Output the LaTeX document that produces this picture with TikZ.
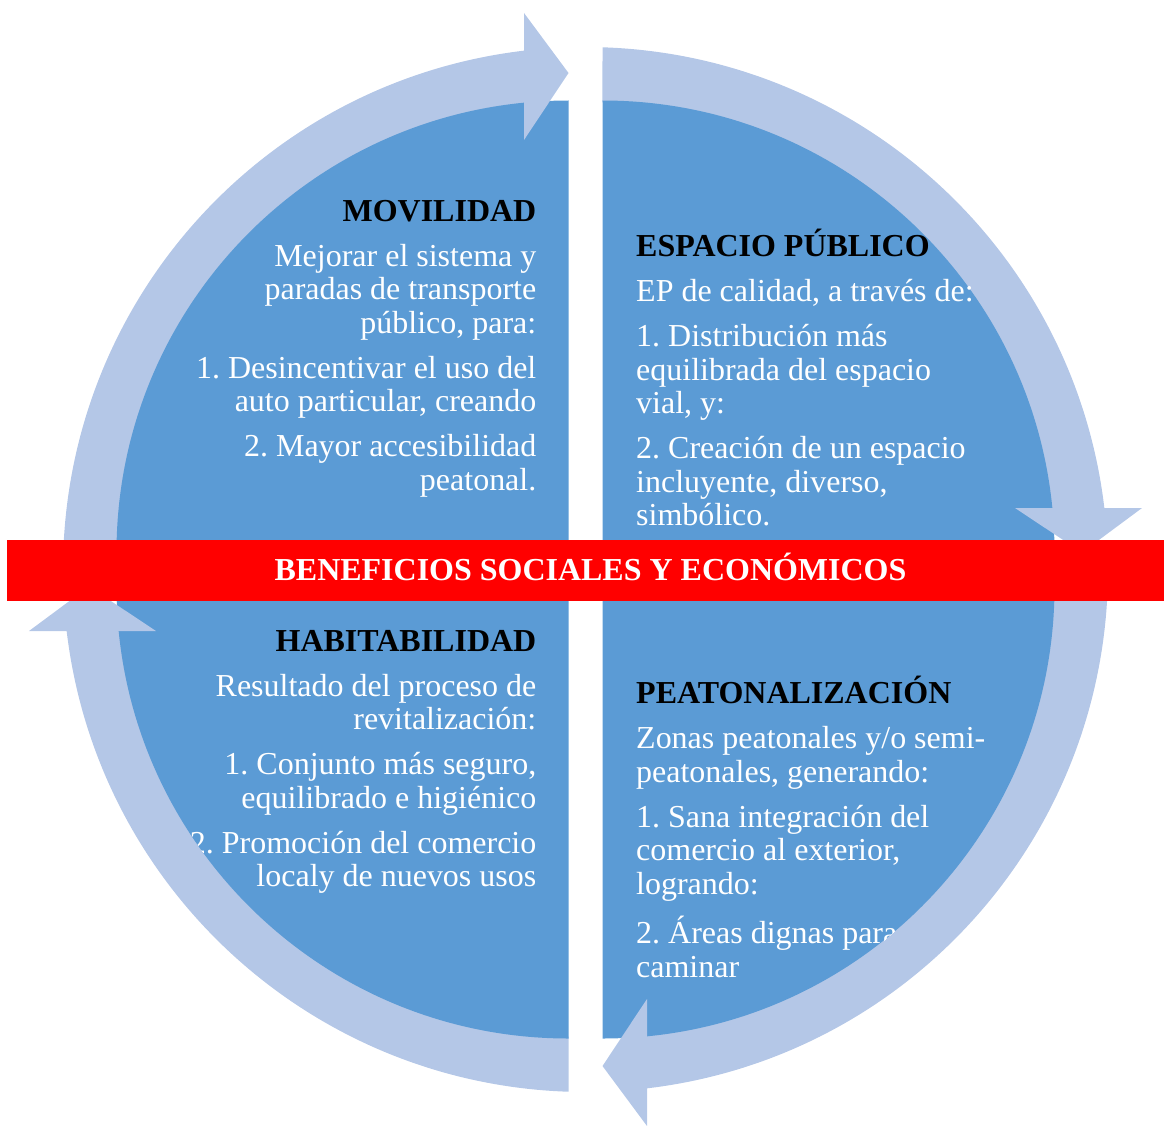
\documentclass[tikz,border=0pt]{standalone}
\usepackage{fontspec}
\setmainfont{Liberation Serif}
\usepackage{tikz}

\definecolor{quadblue}{HTML}{5B9BD5}
\definecolor{ringblue}{HTML}{B4C7E7}
% fixed top for the first line of each block
\newcommand{\hstrut}{\rule{0pt}{1em}}
\frenchspacing

\begin{document}
\begin{tikzpicture}[
    txt/.style={inner sep=0pt,text=white,font=\fontsize{9.1}{9.53}\selectfont},
    hdr/.style={font=\fontsize{9.1}{9.53}\selectfont\bfseries}
  ]
    \useasboundingbox (0,0) rectangle (11.64,11.25);
    \coordinate (c) at (5.855,5.555);

    % Ring arrows: shafts
    \foreach \r in {0,-90,-180,-270}{
      \begin{scope}[shift={(c)},rotate=\r]
        \fill[ringblue] (178.135:5.225) arc[start angle=178.135,end angle=96.5,radius=5.225]
          -- (97.3:4.675) arc[start angle=97.3,end angle=177.92,radius=4.675] -- cycle;
      \end{scope}
    }
    % Quadrants
    \foreach \r in {0,-90,-180,-270}{
      \begin{scope}[shift={(c)},rotate=\r]
        \fill[quadblue] (-0.17,0.17) -- (-0.17,4.69) arc[start angle=90,end angle=180,radius=4.52] -- cycle;
      \end{scope}
    }
    % Ring arrows: heads
    \foreach \r in {0,-90,-180,-270}{
      \begin{scope}[shift={(c)},rotate=\r]
        \fill[ringblue] (-0.615,5.565) -- (-0.17,4.965) -- (-0.615,4.295) -- cycle;
      \end{scope}
    }

    % Movilidad (top left)
    \node[txt,align=right,anchor=north east] (movilidad) at (5.37,9.365) {%
      \hstrut{\color{black}\bfseries MOVILIDAD}\\[3.3pt]
      Mejorar el sistema y\\
      paradas de transporte\\
      público, para:\\[3.3pt]
      1. Desincentivar el uso del\\
      auto particular, creando\\[3.3pt]
      2. Mayor accesibilidad\\
      peatonal.};
    % Espacio publico (top right)
    \node[txt,align=left,anchor=north west] (espacio) at (6.355,9.01) {%
      \hstrut{\color{black}\bfseries ESPACIO PÚBLICO}\\[3.3pt]
      EP de calidad, a través de:\\[3.3pt]
      1. Distribución más\\
      equilibrada del espacio\\
      vial, y:\\[3.3pt]
      2. Creación de un espacio\\
      incluyente, diverso,\\
      simbólico.};
    % Peatonalizacion (bottom right)
    \begin{scope}
      \clip[shift={(c)},rotate=-180] (-0.17,0.17) -- (-0.17,4.69) arc[start angle=90,end angle=180,radius=4.52] -- cycle;
      \node[txt,align=left,anchor=north west] (peatonal) at (6.355,4.54) {%
        \hstrut{\color{black}\bfseries PEATONALIZACIÓN}\\[3.3pt]
        Zonas peatonales y/o semi-\\
        peatonales, generando:\\[3.3pt]
        1. Sana integración del\\
        comercio al exterior,\\
        logrando:\\[3.3pt]
        2. Áreas dignas para\\
        caminar};
    \end{scope}
    % Habitabilidad (bottom left)
    \begin{scope}
      \clip[shift={(c)},rotate=-270] (-0.17,0.17) -- (-0.17,4.69) arc[start angle=90,end angle=180,radius=4.52] -- cycle;
      \node[txt,align=right,anchor=north east] (habitab) at (5.37,5.065) {%
        \hstrut{\color{black}\bfseries HABITABILIDAD}\\[3.3pt]
        Resultado del proceso de\\
        revitalización:\\[3.3pt]
        1. Conjunto más seguro,\\
        equilibrado e higiénico\\[3.3pt]
        2. Promoción del comercio\\
        localy de nuevos usos};
    \end{scope}

    % Central band
    \fill[red] (0.07,5.245) rectangle (11.64,5.85);
    \node[hdr,text=white,inner sep=0pt,anchor=base] (beneficios) at (5.905,5.445)
      {BENEFICIOS SOCIALES Y ECONÓMICOS};
\end{tikzpicture}
\end{document}
